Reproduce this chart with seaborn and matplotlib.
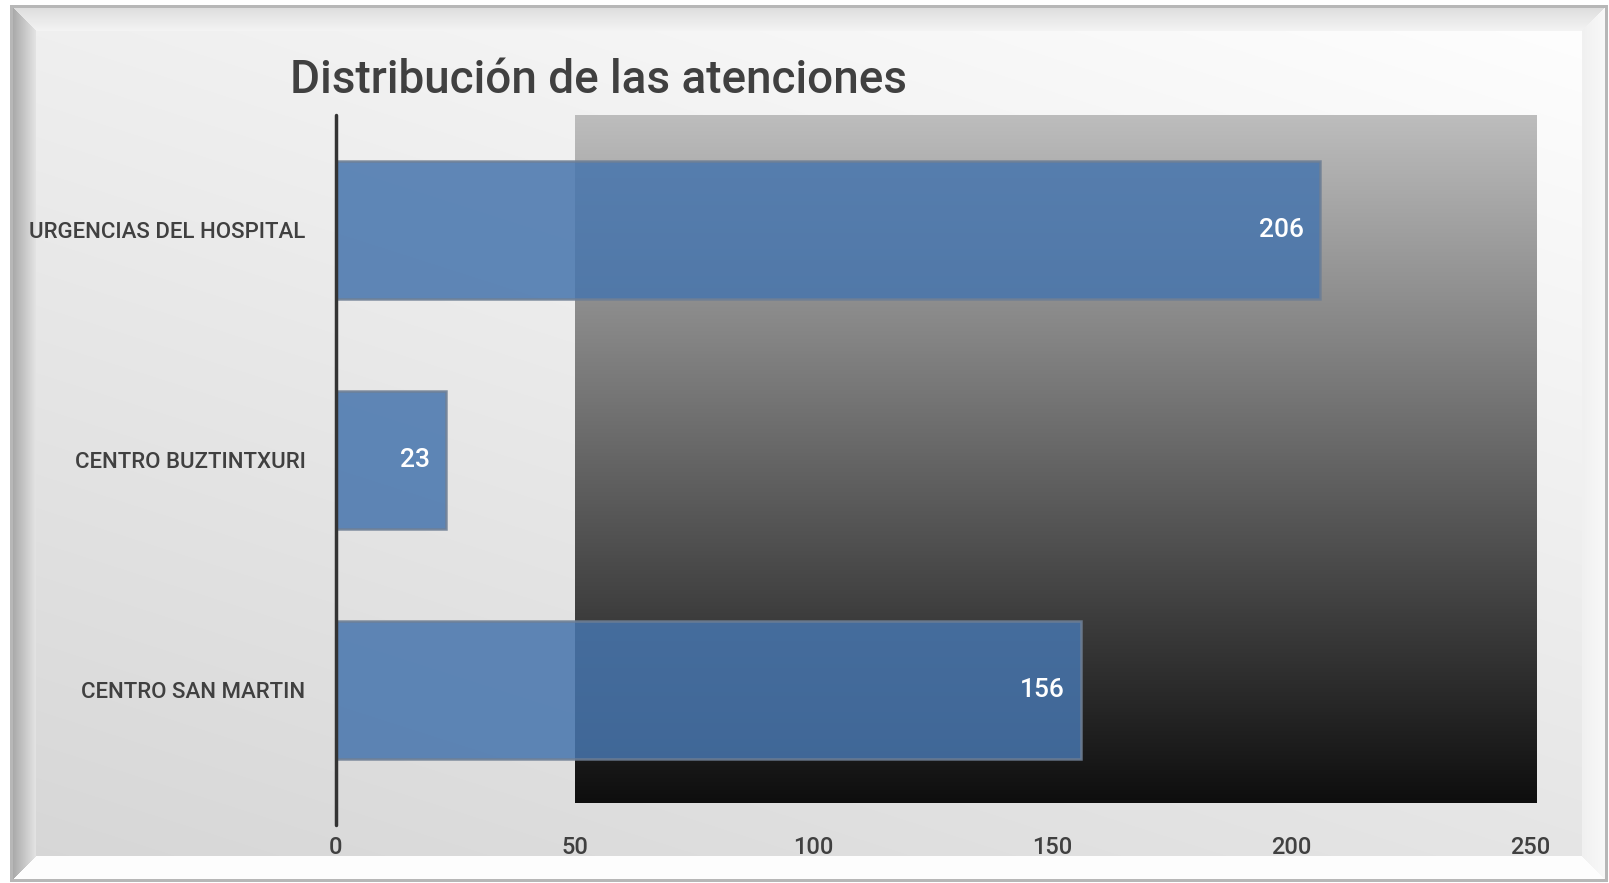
import numpy as np
import pandas as pd
import matplotlib
matplotlib.use("Agg")
import matplotlib.pyplot as plt
import seaborn as sns

# datos
centros = ["URGENCIAS DEL HOSPITAL", "CENTRO BUZTINTXURI", "CENTRO SAN MARTIN"]
atenciones = [206, 23, 156]
x_ticks = [0, 50, 100, 150, 200, 250]
titulo = "Distribución de las atenciones"

df = pd.DataFrame({"centro": centros, "atenciones": atenciones})

sns.set_theme(style="white")
plt.rcParams["font.family"] = ["Roboto", "DejaVu Sans"]

W, H = 1609, 883
fig = plt.figure(figsize=(W / 100, H / 100), dpi=100)
fig.patch.set_facecolor("white")

# fondo con marco biselado
bg = fig.add_axes([0, 0, 1, 1], zorder=0)
bg.axis("off")

yy, xx = np.mgrid[0:H, 0:W].astype(float)
L, R, T, B = 10, 1607, 5, 881
val = 1.0 - 0.10 * (yy / 860) - 0.06 * (1 - xx / W)
d = np.stack([xx - L, R - xx, yy - T, B - yy])
dmin = d.min(axis=0)
side = d.argmin(axis=0)
bw = 26.0
t = np.clip(dmin / bw, 0, 1)
bevel = np.where(side == 0, 0.64 + 0.26 * t,
         np.where(side == 1, 0.98 - 0.04 * t,
         np.where(side == 2, 0.86 + 0.1 * t, 0.995)))
val = np.where(dmin < bw, bevel, val)
val = np.where(dmin < 2.5, 0.72, val)
val = np.where(dmin < 0, 1.0, val)
val = np.clip(val, 0, 1)
rgb = np.dstack([val, val, val])
bg.imshow(rgb, extent=[0, W, H, 0], aspect="auto", interpolation="bilinear")

# degradado del área de trazado
grad = np.linspace(0.74, 0.055, 256).reshape(-1, 1)
grad_rgb = np.dstack([grad, grad, grad])
bg.imshow(grad_rgb, extent=[575, 1537, 803, 115], aspect="auto", interpolation="bilinear")
bg.set_xlim(0, W)
bg.set_ylim(H, 0)

# gráfico
ax = fig.add_axes([336 / W, 1 - 805 / H, (1530 - 336) / W, 690 / H], zorder=1)
ax.patch.set_alpha(0)
sns.barplot(data=df, x="atenciones", y="centro", orient="h", color="#4775ad",
            saturation=1, alpha=0.86, width=0.6, edgecolor="#6f7f94",
            linewidth=1.8, ax=ax)

for i, v in enumerate(atenciones):
    ax.annotate(str(v), xy=(v, i), xytext=(-16, 0), textcoords="offset pixels",
                ha="right", va="center", color="white", fontsize=19,
                fontweight="medium")

ax.set_xlim(0, 250)
ax.set_xticks(x_ticks)
ax.set_xticklabels([str(v) for v in x_ticks], fontweight="medium")
ax.set_yticklabels(centros, fontweight="medium")
ax.set_xlabel("")
ax.set_ylabel("")
for s in ax.spines.values():
    s.set_visible(False)
ax.axvline(0, ymin=-0.029, ymax=1, color="#333333", lw=2.5, clip_on=False)
ax.tick_params(axis="x", length=0, pad=22, labelsize=17, labelcolor="#404040")
ax.tick_params(axis="y", length=0, pad=22, labelsize=16, labelcolor="#404040")
ax.grid(False)

fig.text(290 / W, 1 - 80 / H, titulo, ha="left", va="center",
         fontsize=33, color="#404040", fontweight="medium")

fig.savefig("out.png", dpi=100)
